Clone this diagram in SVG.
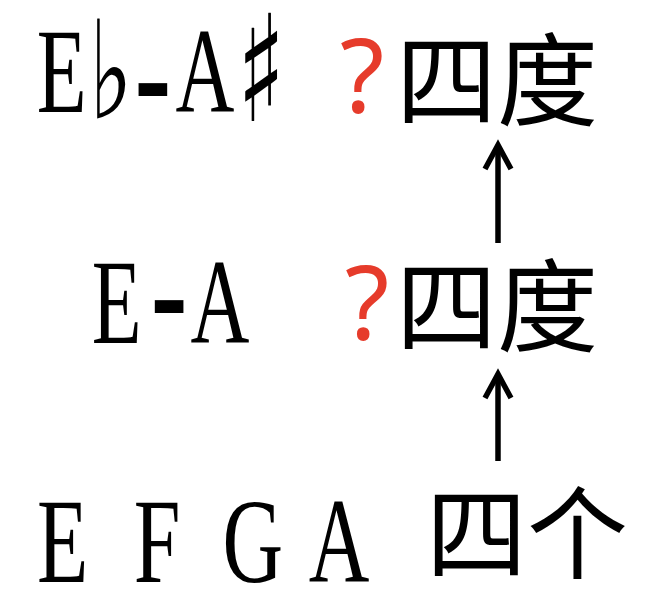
<svg xmlns="http://www.w3.org/2000/svg" width="646" height="600" viewBox="0 0 646 600">
  <style>
    .lat { font-family: "Liberation Serif", serif; font-size: 120px; fill: #000; }
    .sym { font-family: "DejaVu Sans", sans-serif; font-weight: bold; }
    .dash { font-family: "DejaVu Sans", sans-serif; font-size: 160px; }
    .q { font-family: "Noto Sans", "Liberation Sans", sans-serif; font-size: 102px; fill: #e63b2b; }
    .cjk { font-family: "Noto Sans", "Noto Sans CJK SC", sans-serif; font-size: 101px; fill: #000; }
    .conn { stroke: #000; stroke-width: 5.5; fill: none; marker-end: url(#head); }
  </style>
  <defs>
    <marker id="head" markerUnits="userSpaceOnUse" viewBox="-30 -16 36 32" markerWidth="36" markerHeight="32" refX="0" refY="0" orient="auto">
      <path d="M-24,-13 L0,0 L-24,13" fill="none" stroke="#000" stroke-width="5.5" stroke-linejoin="miter"/>
    </marker>
  </defs>
  <rect width="646" height="600" fill="#fff"/>

  <g id="label-ebas">
    <text class="lat" transform="translate(0,112) scale(0.68,1)"><tspan x="54">E</tspan><tspan class="sym" font-size="136" x="131" dy="6">♭</tspan><tspan class="dash" x="196" dy="16">-</tspan><tspan x="258" dy="-22">A</tspan><tspan class="sym" font-size="148" x="348" dy="9">♯</tspan></text>
  </g>
  <g id="label-ea">
    <text class="lat" transform="translate(0,343) scale(0.68,1)"><tspan x="135">E</tspan><tspan class="dash" x="220" dy="8">-</tspan><tspan x="280" dy="-8">A</tspan></text>
  </g>
  <g id="label-efga">
    <text class="lat" transform="translate(0,582) scale(0.7,1)"><tspan x="53">E</tspan> <tspan x="191">F</tspan> <tspan x="318">G</tspan> <tspan x="441">A</tspan></text>
  </g>

  <g id="q1"><text class="q" x="340" y="113">?</text></g>
  <g id="q2"><text class="q" x="345" y="340">?</text></g>

  <g id="node-top"><text class="cjk" x="396" y="118">四度</text></g>
  <g id="node-mid"><text class="cjk" x="396" y="344">四度</text></g>
  <g id="node-bottom"><text class="cjk" x="426" y="571">四个</text></g>

  <g id="connectors">
    <line class="conn" x1="498" y1="243" x2="498" y2="145"/>
    <line class="conn" x1="498" y1="461" x2="498" y2="374"/>
  </g>
</svg>
